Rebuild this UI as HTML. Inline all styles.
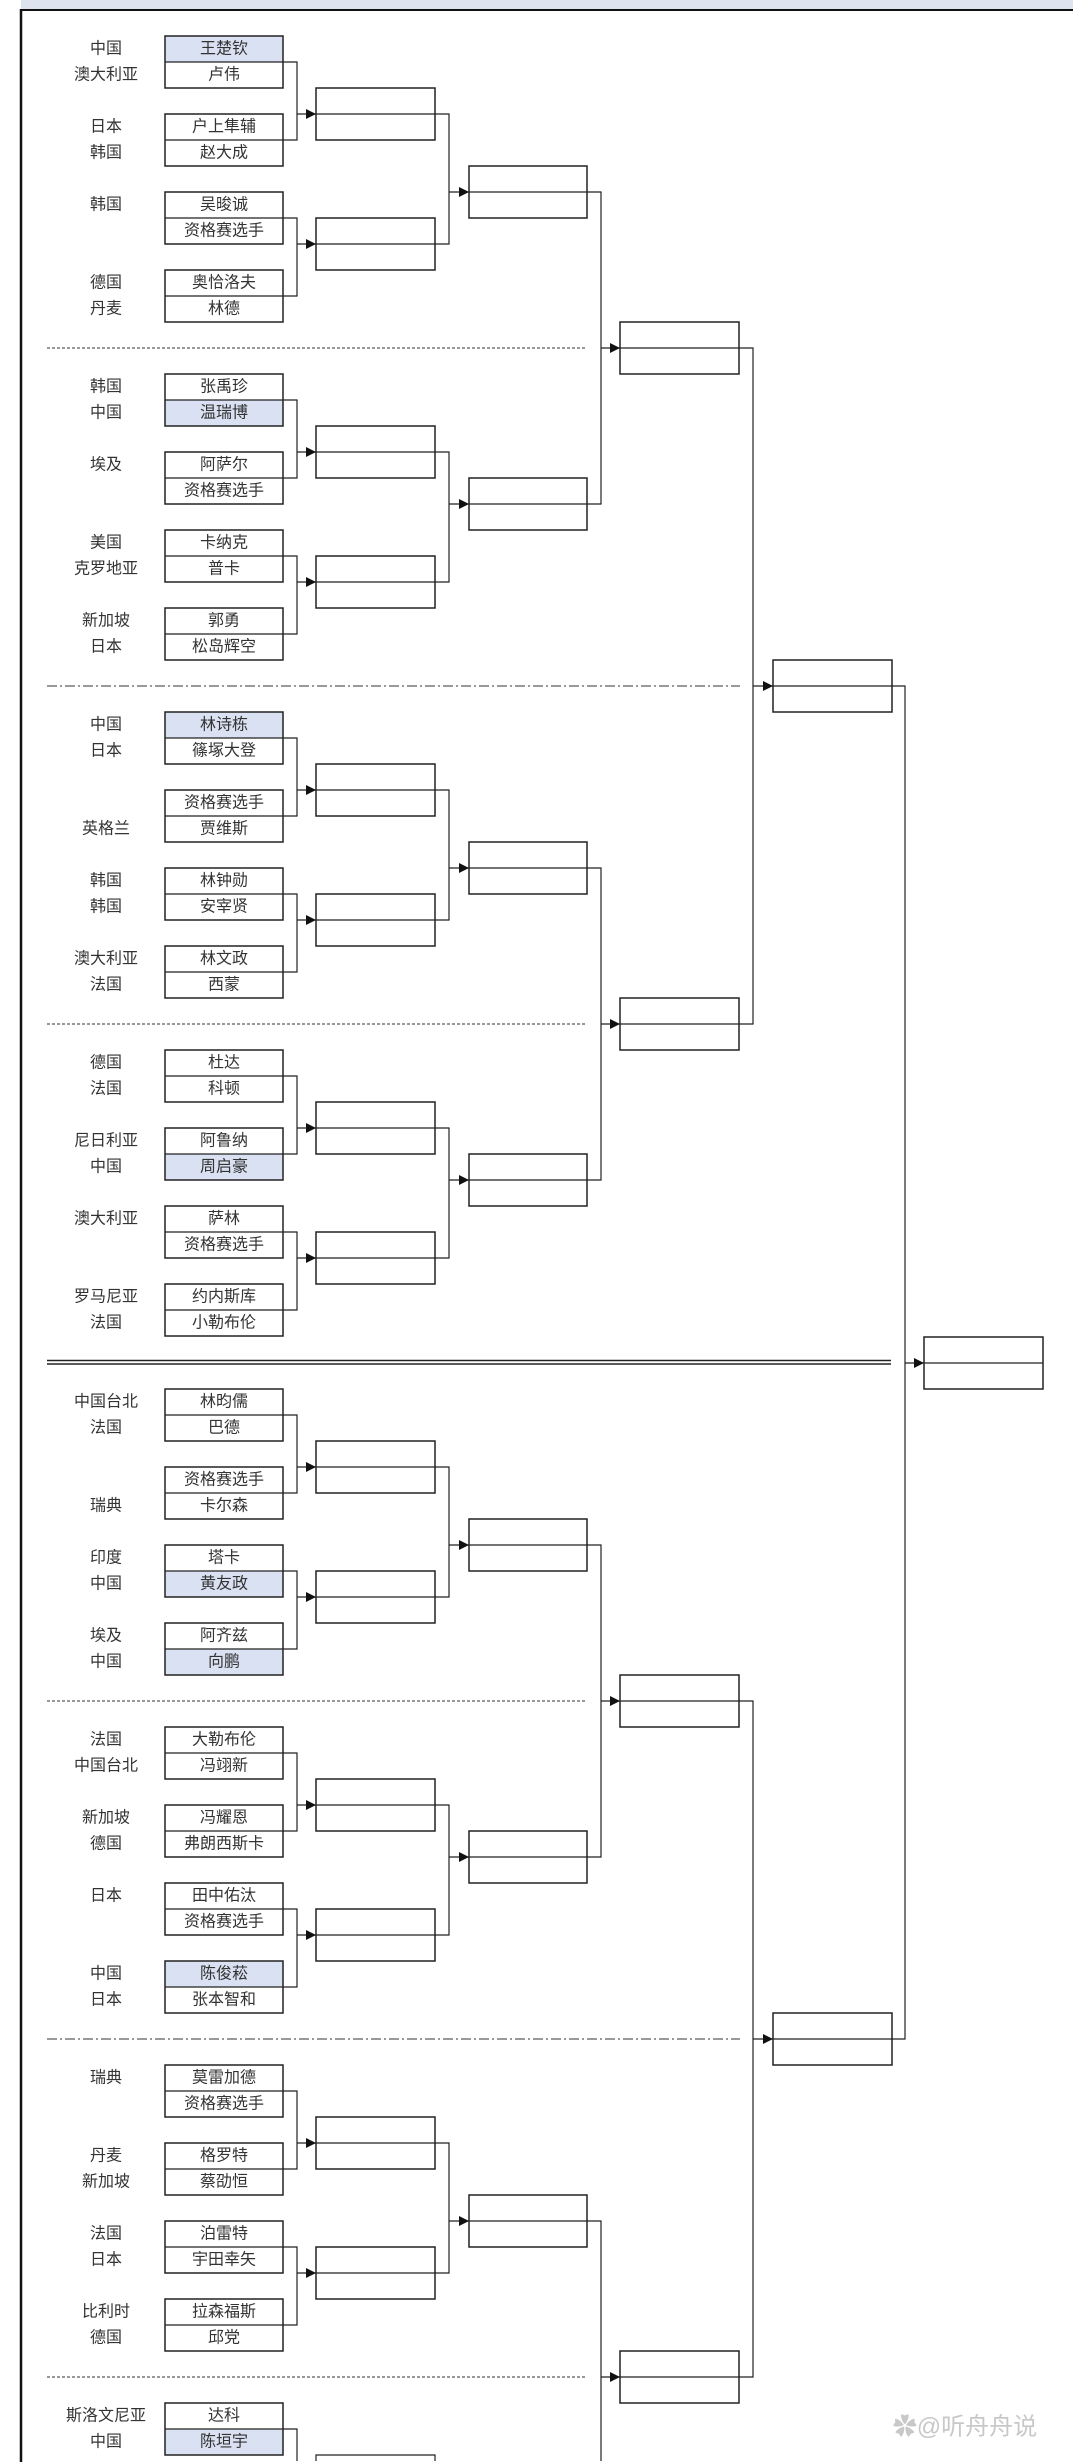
<!DOCTYPE html>
<html><head><meta charset="utf-8">
<style>
html,body{margin:0;padding:0;background:#fff;width:1073px;height:2462px;overflow:hidden;}
svg{display:block;overflow:hidden;}
text{font-family:"Liberation Sans","Noto Sans CJK SC",sans-serif;font-size:16px;fill:#333;text-anchor:middle;dominant-baseline:central;}
.b{fill:none;stroke:#222;stroke-width:1.5;}
.l{fill:none;stroke:#222;stroke-width:1.2;}
.hl{fill:#d9e1f2;}
</style></head><body>
<svg width="1073" height="2462" viewBox="0 0 1073 2462" xmlns="http://www.w3.org/2000/svg">
<defs>
<path id="ar" d="M-10,-5 L0,0 L-10,5Z" fill="#111"/>
<g id="sk">
<rect class="b" x="165" y="0" width="118" height="52"/><line class="l" x1="165" x2="283" y1="26" y2="26"/>
<rect class="b" x="165" y="78" width="118" height="52"/><line class="l" x1="165" x2="283" y1="104" y2="104"/>
<rect class="b" x="165" y="156" width="118" height="52"/><line class="l" x1="165" x2="283" y1="182" y2="182"/>
<rect class="b" x="165" y="234" width="118" height="52"/><line class="l" x1="165" x2="283" y1="260" y2="260"/>
<path class="l" d="M283 26H297V104H283M297 78H316M283 182H297V260H283M297 208H316M435 78H449V208H435"/>
<use href="#ar" x="316" y="78"/><use href="#ar" x="316" y="208"/>
<rect class="b" x="316" y="52" width="119" height="52"/><line class="l" x1="316" x2="435" y1="78" y2="78"/>
<rect class="b" x="316" y="182" width="119" height="52"/><line class="l" x1="316" x2="435" y1="208" y2="208"/>
</g>
<g id="r3">
<path class="l" d="M449 26H469"/><use href="#ar" x="469" y="26"/>
<rect class="b" x="469" y="0" width="118" height="52"/><line class="l" x1="469" x2="587" y1="26" y2="26"/>
</g>
<g id="bx">
<rect class="b" x="0" y="-26" width="119" height="52"/><line class="l" x1="0" x2="119" y1="0" y2="0"/>
</g>
</defs>

<rect x="21" y="0" width="1052" height="10" fill="#dde4f0"/>
<line x1="21" x2="1073" y1="10" y2="10" stroke="#111" stroke-width="2"/>
<line x1="21" x2="21" y1="9" y2="2462" stroke="#111" stroke-width="2.5"/>

<g stroke="#333" stroke-width="1" fill="none">
<line x1="47" x2="587" y1="348" y2="348" stroke-dasharray="3,2"/>
<line x1="47" x2="740" y1="686" y2="686" stroke-dasharray="10,3,2,3"/>
<line x1="47" x2="587" y1="1024" y2="1024" stroke-dasharray="3,2"/>
<line x1="47" x2="891" y1="1360.5" y2="1360.5" stroke="#222" stroke-width="1.5"/>
<line x1="47" x2="891" y1="1364" y2="1364" stroke="#222" stroke-width="1.5"/>
<line x1="47" x2="587" y1="1701" y2="1701" stroke-dasharray="3,2"/>
<line x1="47" x2="740" y1="2039" y2="2039" stroke-dasharray="10,3,2,3"/>
<line x1="47" x2="587" y1="2377" y2="2377" stroke-dasharray="3,2"/>
</g>

<path class="l" d="M587 192H601V504H587M601 348H620M587 868H601V1180H587M601 1024H620M587 1545H601V1857H587M601 1701H620M587 2221H601V2461M601 2377H620"/>
<use href="#ar" x="620" y="348"/><use href="#ar" x="620" y="1024"/><use href="#ar" x="620" y="1701"/><use href="#ar" x="620" y="2377"/>
<use href="#bx" x="620" y="348"/><use href="#bx" x="620" y="1024"/><use href="#bx" x="620" y="1701"/><use href="#bx" x="620" y="2377"/>
<path class="l" d="M739 348H753V1024H739M753 686H773M739 1701H753V2377H739M753 2039H773"/>
<use href="#ar" x="773" y="686"/><use href="#ar" x="773" y="2039"/>
<use href="#bx" x="773" y="686"/><use href="#bx" x="773" y="2039"/>
<path class="l" d="M891 686H905V2039H891M905 1363H924"/>
<use href="#ar" x="924" y="1363"/>
<use href="#bx" x="924" y="1363"/>

<g transform="translate(0,36)">
<rect class="hl" x="165" y="0" width="118" height="26"/>
<use href="#sk"/><use href="#r3" y="130"/>
<text x="106" y="13">中国</text><text x="224" y="13">王楚钦</text>
<text x="106" y="39">澳大利亚</text><text x="224" y="39">卢伟</text>
<text x="106" y="91">日本</text><text x="224" y="91">户上隼辅</text>
<text x="106" y="117">韩国</text><text x="224" y="117">赵大成</text>
<text x="106" y="169">韩国</text><text x="224" y="169">吴晙诚</text>
<text x="224" y="195">资格赛选手</text>
<text x="106" y="247">德国</text><text x="224" y="247">奥恰洛夫</text>
<text x="106" y="273">丹麦</text><text x="224" y="273">林德</text>
</g>
<g transform="translate(0,374)">
<rect class="hl" x="165" y="26" width="118" height="26"/>
<use href="#sk"/><use href="#r3" y="104"/>
<text x="106" y="13">韩国</text><text x="224" y="13">张禹珍</text>
<text x="106" y="39">中国</text><text x="224" y="39">温瑞博</text>
<text x="106" y="91">埃及</text><text x="224" y="91">阿萨尔</text>
<text x="224" y="117">资格赛选手</text>
<text x="106" y="169">美国</text><text x="224" y="169">卡纳克</text>
<text x="106" y="195">克罗地亚</text><text x="224" y="195">普卡</text>
<text x="106" y="247">新加坡</text><text x="224" y="247">郭勇</text>
<text x="106" y="273">日本</text><text x="224" y="273">松岛辉空</text>
</g>
<g transform="translate(0,712)">
<rect class="hl" x="165" y="0" width="118" height="26"/>
<use href="#sk"/><use href="#r3" y="130"/>
<text x="106" y="13">中国</text><text x="224" y="13">林诗栋</text>
<text x="106" y="39">日本</text><text x="224" y="39">篠塚大登</text>
<text x="224" y="91">资格赛选手</text>
<text x="106" y="117">英格兰</text><text x="224" y="117">贾维斯</text>
<text x="106" y="169">韩国</text><text x="224" y="169">林钟勋</text>
<text x="106" y="195">韩国</text><text x="224" y="195">安宰贤</text>
<text x="106" y="247">澳大利亚</text><text x="224" y="247">林文政</text>
<text x="106" y="273">法国</text><text x="224" y="273">西蒙</text>
</g>
<g transform="translate(0,1050)">
<rect class="hl" x="165" y="104" width="118" height="26"/>
<use href="#sk"/><use href="#r3" y="104"/>
<text x="106" y="13">德国</text><text x="224" y="13">杜达</text>
<text x="106" y="39">法国</text><text x="224" y="39">科顿</text>
<text x="106" y="91">尼日利亚</text><text x="224" y="91">阿鲁纳</text>
<text x="106" y="117">中国</text><text x="224" y="117">周启豪</text>
<text x="106" y="169">澳大利亚</text><text x="224" y="169">萨林</text>
<text x="224" y="195">资格赛选手</text>
<text x="106" y="247">罗马尼亚</text><text x="224" y="247">约内斯库</text>
<text x="106" y="273">法国</text><text x="224" y="273">小勒布伦</text>
</g>
<g transform="translate(0,1389)">
<rect class="hl" x="165" y="182" width="118" height="26"/>
<rect class="hl" x="165" y="260" width="118" height="26"/>
<use href="#sk"/><use href="#r3" y="130"/>
<text x="106" y="13">中国台北</text><text x="224" y="13">林昀儒</text>
<text x="106" y="39">法国</text><text x="224" y="39">巴德</text>
<text x="224" y="91">资格赛选手</text>
<text x="106" y="117">瑞典</text><text x="224" y="117">卡尔森</text>
<text x="106" y="169">印度</text><text x="224" y="169">塔卡</text>
<text x="106" y="195">中国</text><text x="224" y="195">黄友政</text>
<text x="106" y="247">埃及</text><text x="224" y="247">阿齐兹</text>
<text x="106" y="273">中国</text><text x="224" y="273">向鹏</text>
</g>
<g transform="translate(0,1727)">
<rect class="hl" x="165" y="234" width="118" height="26"/>
<use href="#sk"/><use href="#r3" y="104"/>
<text x="106" y="13">法国</text><text x="224" y="13">大勒布伦</text>
<text x="106" y="39">中国台北</text><text x="224" y="39">冯翊新</text>
<text x="106" y="91">新加坡</text><text x="224" y="91">冯耀恩</text>
<text x="106" y="117">德国</text><text x="224" y="117">弗朗西斯卡</text>
<text x="106" y="169">日本</text><text x="224" y="169">田中佑汰</text>
<text x="224" y="195">资格赛选手</text>
<text x="106" y="247">中国</text><text x="224" y="247">陈俊菘</text>
<text x="106" y="273">日本</text><text x="224" y="273">张本智和</text>
</g>
<g transform="translate(0,2065)">
<use href="#sk"/><use href="#r3" y="130"/>
<text x="106" y="13">瑞典</text><text x="224" y="13">莫雷加德</text>
<text x="224" y="39">资格赛选手</text>
<text x="106" y="91">丹麦</text><text x="224" y="91">格罗特</text>
<text x="106" y="117">新加坡</text><text x="224" y="117">蔡劭恒</text>
<text x="106" y="169">法国</text><text x="224" y="169">泊雷特</text>
<text x="106" y="195">日本</text><text x="224" y="195">宇田幸矢</text>
<text x="106" y="247">比利时</text><text x="224" y="247">拉森福斯</text>
<text x="106" y="273">德国</text><text x="224" y="273">邱党</text>
</g>
<!-- Section 8 (cut off at bottom) -->
<rect class="hl" x="165" y="2429" width="118" height="26"/>
<rect class="b" x="165" y="2403" width="118" height="52"/>
<line class="l" x1="165" x2="283" y1="2429" y2="2429"/>
<path class="l" d="M283 2429H297V2461M316 2461V2455H435V2461"/>
<text x="106" y="2416">斯洛文尼亚</text><text x="224" y="2416">达科</text>
<text x="106" y="2442">中国</text><text x="224" y="2442">陈垣宇</text>

<text x="965" y="2427" style="font-size:24px;fill:#c8c8c8;">✿@听舟舟说</text>
</svg>
</body></html>
